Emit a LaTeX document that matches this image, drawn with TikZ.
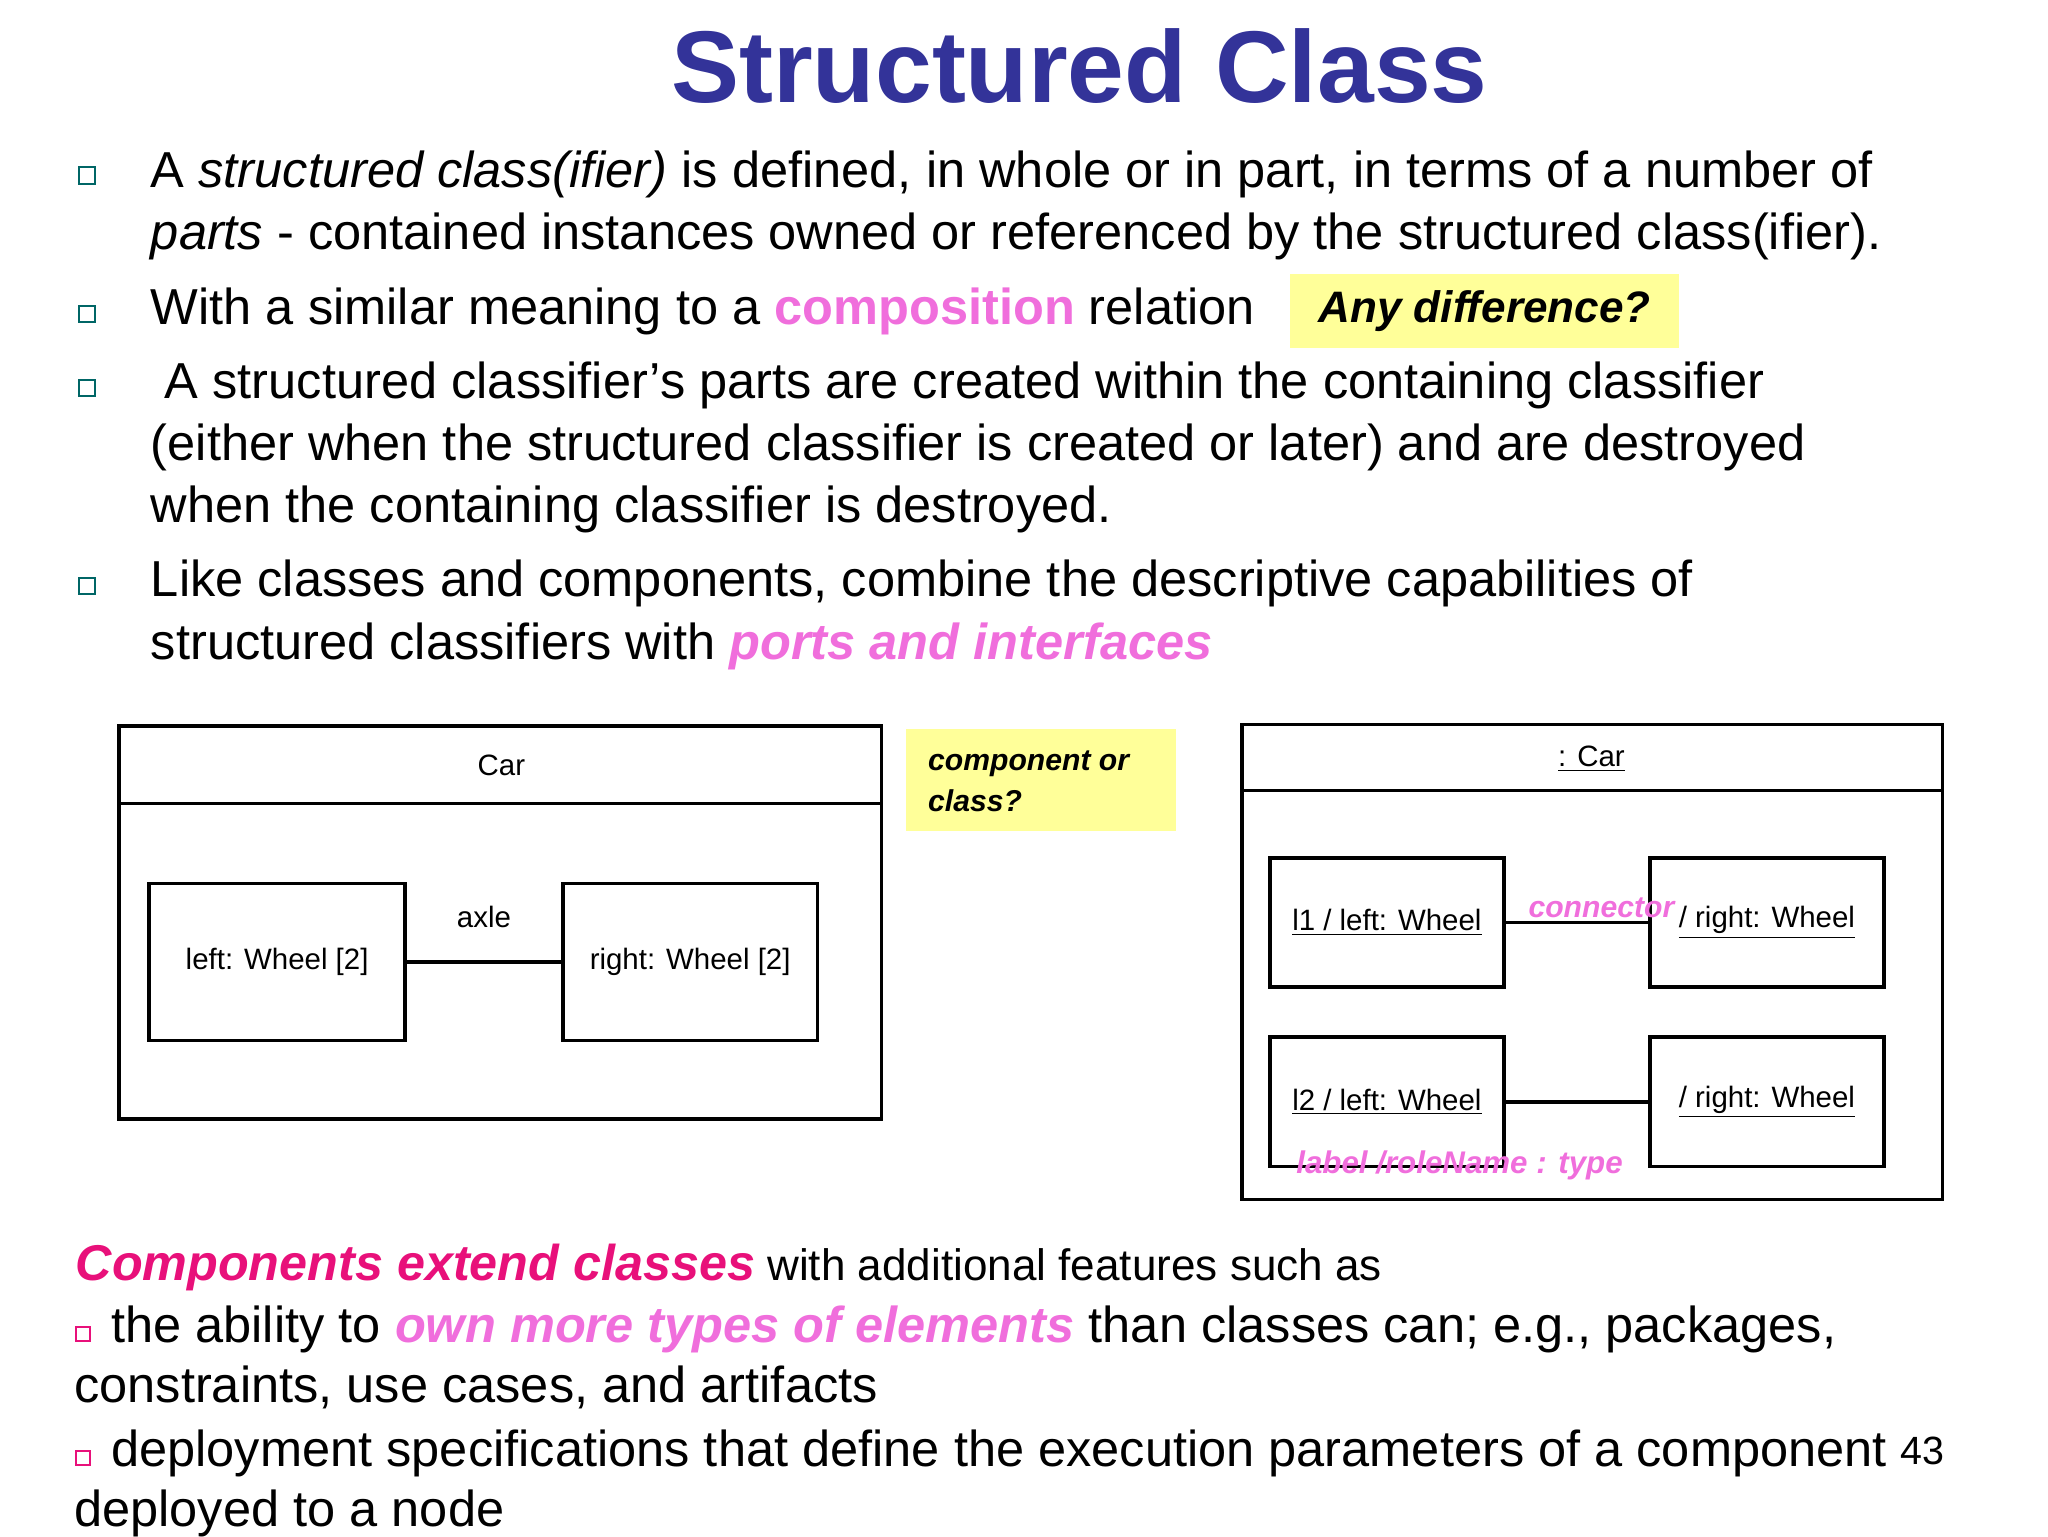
\documentclass[tikz,border=0pt]{standalone}
\usepackage{fontspec}
\setmainfont{Liberation Sans}
\begin{document}
\begin{tikzpicture}[x=0.02cm,y=-0.02cm,
  body/.style={anchor=base west,inner sep=0,font=\fontsize{21.8}{24}\selectfont},
  small/.style={anchor=base west,inner sep=0,font=\fontsize{19}{22}\selectfont},
  dg/.style={font=\fontsize{12.7}{14}\selectfont,inner sep=0},
  bx/.style={draw,line width=1.6pt},
  ln/.style={line width=1.6pt},
  bul/.style={draw=teal!80!black,line width=0.8pt,minimum size=7pt,inner sep=0}]
\definecolor{ttl}{HTML}{333399}
\definecolor{pk}{HTML}{F06EDC}
\definecolor{crim}{HTML}{E8107A}
\definecolor{yel}{HTML}{FFFF99}
\useasboundingbox (0,0) rectangle (1552,1164);
\node[inner sep=0,anchor=base,font=\fontsize{44}{48}\selectfont\bfseries,text=ttl] (title) at (818,78) {Structured Class};
\foreach \y/\n in {133/b1,238/b2,294/b3,444/b4} \node[bul] (\n) at (66,\y) {};
\node[body] (l1) at (114,142) {A \textit{structured class(ifier)} is defined, in whole or in part, in terms of a number of};
\node[body] (l2) at (114,189) {\textit{parts} - contained instances owned or referenced by the structured class(ifier).};
\node[body] (l3) at (114,246) {With a similar meaning to a \textcolor{pk}{\bfseries composition} relation};
\node[fill=yel,minimum width=295*0.02cm,minimum height=56*0.02cm,inner sep=0,font=\fontsize{19}{21}\selectfont\bfseries\itshape] (anyd) at (1125,236) {Any difference?};
\node[body] (l4) at (114,302) {\ A structured classifier’s parts are created within the containing classifier};
\node[body] (l5) at (114,349) {(either when the structured classifier is created or later) and are destroyed};
\node[body] (l6) at (114,396) {when the containing classifier is destroyed.};
\node[body] (l7) at (114,452) {Like classes and components, combine the descriptive capabilities of};
\node[body] (l8) at (114,500) {structured classifiers with \textcolor{pk}{\bfseries\itshape ports and interfaces}};
% left diagram
\draw[bx] (90,550) rectangle (668,848);
\draw[ln] (90,609) -- (668,609);
\node[dg] (car) at (380,580) {Car};
\node[bx,dg,minimum width=194*0.02cm,minimum height=119*0.02cm] (lw) at (210,729) {left: Wheel [2]};
\node[bx,dg,minimum width=193*0.02cm,minimum height=119*0.02cm] (rw) at (523,729) {right: Wheel [2]};
\draw[ln] (lw) -- node[dg,above=14pt] {axle} (rw);
\node[fill=yel,minimum width=205*0.02cm,minimum height=77*0.02cm,inner sep=0] (cq) at (789,591) {};
\node[anchor=base west,inner sep=0,font=\fontsize{13}{15}\selectfont\bfseries\itshape] (cq1) at (703,584) {component or};
\node[anchor=base west,inner sep=0,font=\fontsize{13}{15}\selectfont\bfseries\itshape] (cq2) at (703,615) {class?};
% right diagram
\draw[bx] (941,549) rectangle (1472,909);
\draw[ln] (941,599) -- (1472,599);
\node[dg] (rcar) at (1206,575) {\underline{: Car}};
\tikzset{pb/.style={bx,dg,minimum width=177*0.02cm,minimum height=98*0.02cm}}
\node[pb] (p1) at (1051,699) {\underline{l1 / left: Wheel}};
\node[pb] (p2) at (1339,699) {\underline{/ right: Wheel}};
\node[pb] (p3) at (1051,835) {\underline{l2 / left: Wheel}};
\node[pb] (p4) at (1339,835) {\underline{/ right: Wheel}};
\draw[ln] (p1) -- (p2);
\draw[ln] (p3) -- (p4);
\node[anchor=base west,inner sep=0,text=pk,font=\fontsize{13}{15}\selectfont\bfseries\itshape] (conn) at (1158,695) {connector};
\node[anchor=base west,inner sep=0,text=pk,font=\fontsize{13.5}{15}\selectfont\bfseries\itshape] (lab) at (982,889) {label /roleName : type};
% bottom
\node[small] (c1) at (57,970) {\textcolor{crim}{\fontsize{21.7}{24}\selectfont\bfseries\itshape Components extend classes} with additional features such as};
\node[draw=crim,line width=0.7pt,minimum size=6pt,inner sep=0] (sb1) at (63,1011) {};
\node[body] (c2) at (84,1017) {the ability to \textcolor{pk}{\bfseries\itshape own more types of elements} than classes can; e.g., packages,};
\node[body] (c3) at (56,1063) {constraints, use cases, and artifacts};
\node[draw=crim,line width=0.7pt,minimum size=6pt,inner sep=0] (sb2) at (63,1105) {};
\node[body] (c4) at (84,1111) {deployment specifications that define the execution parameters of a component};
\node[body] (c5) at (56,1157) {deployed to a node};
\node[anchor=base west,inner sep=0,font=\fontsize{17}{19}\selectfont] (pg) at (1440,1110) {43};
\end{tikzpicture}
\end{document}
